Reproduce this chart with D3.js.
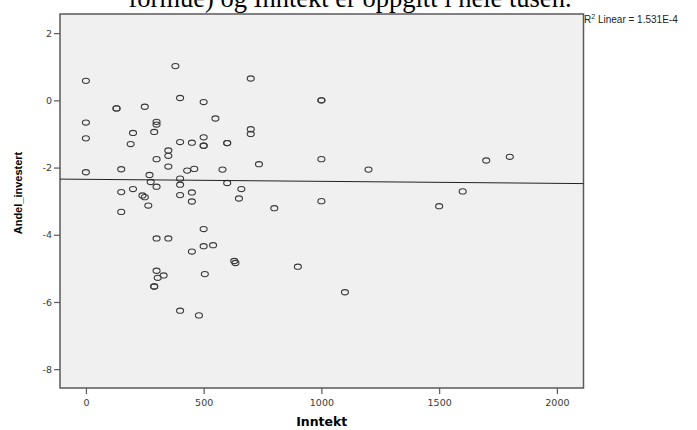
<!DOCTYPE html>
<meta charset="utf-8">
<style>
 body { margin: 0; background: #fff; }
 svg { display: block; }
</style>
<script src="https://d3js.org/d3.v7.min.js"></script>
<body>
<script>
// Inntekt (x) and Andel_investert (y); repeats are overlapping points
var inntekt = [0, 380, 700, 400, 500, 130, 130, 250, 0, 300, 300, 550, 700, 700, 200, 290, 0, 500, 190, 400,
 450, 500, 500, 600, 600, 350, 350, 300, 350, 735, 0, 150, 430, 460, 580, 270, 275, 300, 400, 400,
 600, 660, 650, 150, 200, 240, 250, 265, 150, 400, 450, 450, 500, 300, 350, 500, 540, 450, 630, 635,
 300, 330, 305, 505, 290, 290, 400, 480, 1000, 1000, 1000, 1200, 1700, 1800, 800, 1000, 1500, 1600, 900, 1100];
var andel = [0.58, 1.02, 0.65, 0.07, -0.05, -0.24, -0.24, -0.19, -0.66, -0.64, -0.72, -0.54, -0.86, -1.00, -0.97, -0.94, -1.13, -1.10, -1.30, -1.24,
 -1.26, -1.35, -1.35, -1.27, -1.27, -1.49, -1.65, -1.75, -1.97, -1.90, -2.14, -2.05, -2.09, -2.04, -2.06, -2.22, -2.43, -2.57, -2.33, -2.51,
 -2.46, -2.64, -2.92, -2.73, -2.64, -2.83, -2.88, -3.13, -3.32, -2.82, -2.74, -3.01, -3.83, -4.11, -4.11, -4.34, -4.31, -4.50, -4.78, -4.84,
 -5.07, -5.21, -5.28, -5.17, -5.54, -5.54, -6.26, -6.40, 0.00, 0.00, -1.75, -2.06, -1.79, -1.68, -3.21, -3.00, -3.15, -2.71, -4.95, -5.71];
// fit line: intercept, slope
var fitCoef = [-2.35, -0.00006];
var xTicks = [0, 500, 1000, 1500, 2000];
var yTicks = [2, 0, -2, -4, -6, -8];

var width = 697, height = 430;
var pLeft = 60, pRight = 583.5, pTop = 14, pBottom = 388;

var svg = d3.select("body").append("svg")
 .attr("width", width)
 .attr("height", height);

var x = d3.scaleLinear().domain([-110, 2113]).range([pLeft, pRight]);
var y = d3.scaleLinear().domain([2.57, -8.56]).range([pTop, pBottom]);

// title, cut off at the top of the picture
svg.append("text")
 .attr("x", 350)
 .attr("y", 6.5)
 .attr("text-anchor", "middle")
 .style("font-family", "'Liberation Serif', 'Times New Roman', serif")
 .style("font-size", "26.5px")
 .text("formue) og Inntekt er oppgitt i hele tusen.");

// plot background + frame
svg.append("rect")
 .attr("x", pLeft).attr("y", pTop)
 .attr("width", pRight - pLeft).attr("height", pBottom - pTop)
 .attr("fill", "#f0f0f0")
 .attr("stroke", "#5a5a5a")
 .attr("stroke-width", 1.5);

var yAxis = svg.append("g")
 .attr("transform", "translate(" + pLeft + ",0)")
 .call(d3.axisLeft(y).tickValues(yTicks).tickSize(6).tickSizeOuter(0).tickPadding(2)
  .tickFormat(function(d) { return String(d); }));
var xAxis = svg.append("g")
 .attr("transform", "translate(0," + pBottom + ")")
 .call(d3.axisBottom(x).tickValues(xTicks).tickSize(6).tickSizeOuter(0).tickPadding(5)
  .tickFormat(function(d) { return String(d); }));

[yAxis, xAxis].forEach(function(a) {
 a.select(".domain").remove();
 a.selectAll("line").attr("stroke", "#5a5a5a").attr("stroke-width", 1.2);
 a.selectAll("text")
  .attr("fill", "#3a3a3a")
  .style("font-family", "'DejaVu Sans', Verdana, sans-serif")
  .style("font-size", "9.5px");
});

// axis titles
svg.append("text")
 .attr("x", (pLeft + pRight) / 2)
 .attr("y", 426)
 .attr("text-anchor", "middle")
 .style("font-family", "'DejaVu Sans', Verdana, sans-serif")
 .style("font-weight", "bold")
 .style("font-size", "12.5px")
 .text("Inntekt");

svg.append("text")
 .attr("transform", "translate(22,193) rotate(-90)")
 .attr("text-anchor", "middle")
 .style("font-family", "'Liberation Sans', Arial, sans-serif")
 .style("font-weight", "bold")
 .style("font-size", "11px")
 .text("Andel_investert");

// points
svg.append("g").selectAll("ellipse")
 .data(d3.range(inntekt.length))
 .enter().append("ellipse")
 .attr("cx", function(i) { return x(inntekt[i]); })
 .attr("cy", function(i) { return y(andel[i]); })
 .attr("rx", 3.5)
 .attr("ry", 2.6)
 .attr("fill", "none")
 .attr("stroke", "#3a3a3a")
 .attr("stroke-width", 1.1);

// linear fit across the whole frame
var xd = x.domain();
svg.append("line")
 .attr("x1", x(xd[0])).attr("y1", y(fitCoef[0] + fitCoef[1] * xd[0]))
 .attr("x2", x(xd[1])).attr("y2", y(fitCoef[0] + fitCoef[1] * xd[1]))
 .attr("stroke", "#222")
 .attr("stroke-width", 1);

// R2 label
var r2 = svg.append("text")
 .attr("x", 584)
 .attr("y", 23)
 .style("font-family", "'Liberation Sans', Arial, sans-serif")
 .style("font-size", "10px")
 .attr("fill", "#222");
r2.append("tspan").text("R");
r2.append("tspan").attr("dy", -4).style("font-size", "7px").text("2");
r2.append("tspan").attr("dy", 4).text(" Linear = 1.531E-4");
</script>
